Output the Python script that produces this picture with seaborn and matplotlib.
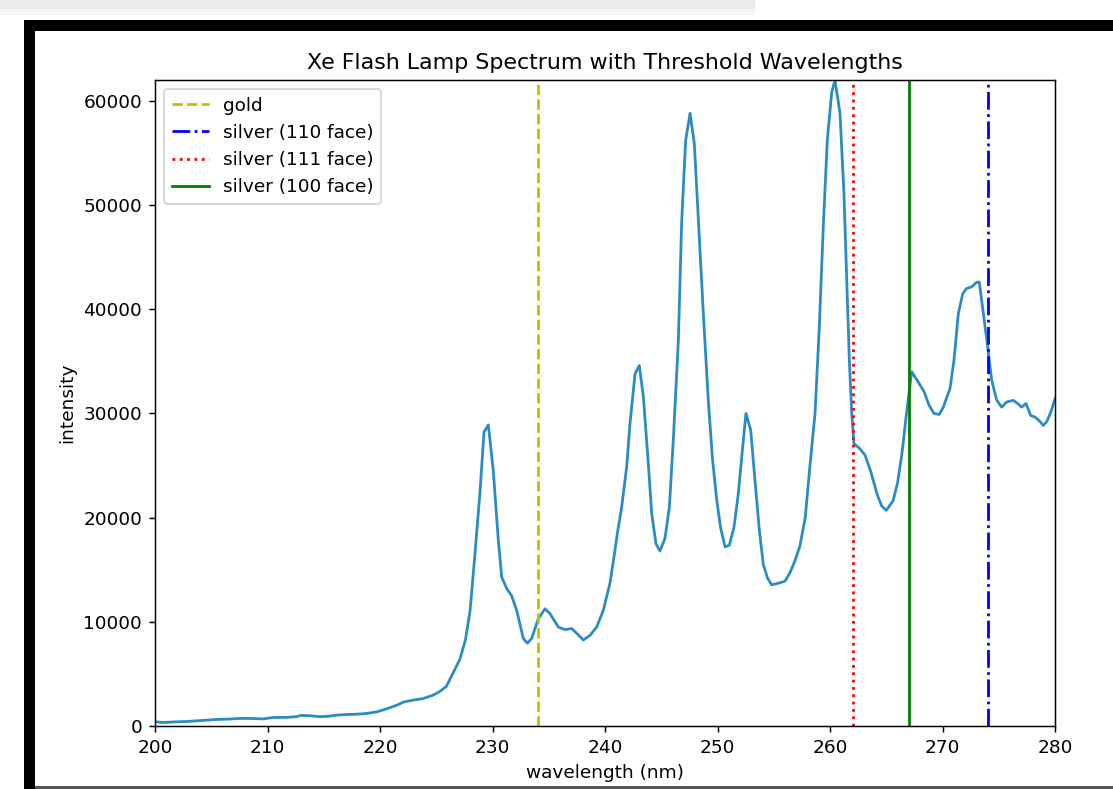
import numpy as np
import pandas as pd
import seaborn as sns
import matplotlib.pyplot as plt
from matplotlib.patches import Rectangle

# spectrum
wavelength = [
    200.0, 200.7, 201.8, 202.8, 203.7, 204.6, 205.5, 206.7, 207.6, 208.7,
    209.6, 210.5, 211.7, 212.6, 213.0, 213.8, 214.7, 215.5, 216.2, 217.0,
    217.9, 218.8, 219.7, 220.6, 221.5, 222.1, 223.0, 223.8, 224.3, 224.7,
    225.3, 225.9, 226.5, 227.1, 227.6, 228.0, 228.4, 228.9, 229.24, 229.63,
    230.07, 230.52, 230.82, 231.26, 231.7, 232.15, 232.74, 233.1, 233.48, 234.07,
    234.67, 235.1, 235.85, 236.44, 237.04, 237.63, 238.07, 238.67, 239.26, 239.85,
    240.44, 240.74, 241.1, 241.48, 241.93, 242.22, 242.67, 243.05, 243.41, 243.85,
    244.15, 244.53, 244.89, 245.33, 245.72, 246.07, 246.52, 246.82, 247.17, 247.56,
    247.94, 248.36, 248.74, 249.18, 249.54, 249.93, 250.28, 250.67, 251.05, 251.47,
    251.85, 252.24, 252.53, 252.95, 253.33, 253.72, 254.07, 254.45, 254.81, 255.4,
    256.0, 256.44, 256.9, 257.33, 257.8, 258.22, 258.67, 259.05, 259.4, 259.76,
    260.15, 260.44, 260.89, 261.24, 261.48, 261.72, 261.93, 262.13, 262.67, 263.11,
    263.6, 264.2, 264.6, 265.0, 265.6, 266.0, 266.4, 266.8, 267.26, 267.85,
    268.36, 268.8, 269.24, 269.72, 270.07, 270.67, 271.02, 271.41, 271.8, 272.15,
    272.6, 273.04, 273.27, 273.63, 273.98, 274.37, 274.81, 275.26, 275.7, 276.3,
    276.74, 277.04, 277.42, 277.84, 278.22, 278.6, 278.96, 279.26, 279.62, 280.0,
]
intensity = [
    410, 330, 400, 430, 500, 560, 630, 670, 730, 720,
    680, 820, 830, 900, 1020, 980, 890, 950, 1050, 1100,
    1130, 1200, 1350, 1650, 2000, 2300, 2500, 2620, 2800, 2950,
    3300, 3800, 5100, 6400, 8300, 11000, 16000, 22600, 28200, 28900,
    24500, 17800, 14300, 13200, 12500, 11100, 8400, 7950, 8400, 10300,
    11250, 10800, 9500, 9250, 9350, 8750, 8250, 8700, 9500, 11100,
    13700, 15800, 18500, 21000, 24900, 29000, 33800, 34600, 31600, 25200,
    20400, 17500, 16800, 18000, 21000, 27400, 37000, 48500, 56200, 58800,
    55900, 47300, 39600, 31300, 25800, 21700, 19000, 17200, 17350, 19100,
    22300, 26800, 30000, 28400, 23600, 18800, 15500, 14200, 13550, 13700,
    13900, 14700, 15900, 17300, 20000, 25000, 30000, 38300, 47900, 56200,
    60800, 62000, 58800, 51100, 43100, 35100, 30000, 27100, 26600, 26000,
    24500, 22200, 21100, 20700, 21600, 23300, 26200, 30000, 34000, 33000,
    32100, 30800, 30000, 29900, 30600, 32400, 35100, 39600, 41500, 42000,
    42150, 42600, 42600, 39600, 36700, 33200, 31300, 30600, 31100, 31250,
    30900, 30600, 30950, 29800, 29650, 29300, 28850, 29200, 30100, 31400,
]

# threshold wavelengths (nm)
threshold_labels = ['gold', 'silver (110 face)', 'silver (111 face)', 'silver (100 face)']
threshold_nm = [234, 274, 262, 267]
threshold_colors = ['y', 'b', 'r', 'g']
threshold_styles = ['--', '-.', ':', '-']

df = pd.DataFrame({'wavelength': wavelength, 'intensity': intensity})

W, H = 1113, 789
DPI = 133
fig = plt.figure(figsize=(W / DPI, H / DPI), dpi=DPI)

# screenshot frame around the figure
def box(x0, y0, x1, y1, color):
    fig.add_artist(Rectangle((x0 / W, 1 - y1 / H), (x1 - x0) / W, (y1 - y0) / H,
                             transform=fig.transFigure, color=color, lw=0, zorder=-5))

box(0, 0, 755, 9, '#ebebeb')
box(0, 9, 755, 12, '#f3f3f3')
box(0, 12, 755, 15, '#f9f9f9')
box(24, 20, W, 31, 'black')
box(24, 20, 35, H, 'black')
box(35, 786, W, 789, '#555555')

ax = fig.add_axes([155 / W, 63 / H, 900 / W, 646 / H])

sns.lineplot(data=df, x='wavelength', y='intensity', ax=ax, color='#2b8cc4')

for lab, nm, c, ls in zip(threshold_labels, threshold_nm, threshold_colors, threshold_styles):
    ax.axvline(nm, color=c, linestyle=ls, label=lab)

ax.set_xlim(200, 280)
ax.set_ylim(0, max(intensity))
ax.set_title('Xe Flash Lamp Spectrum with Threshold Wavelengths')
ax.set_xlabel('wavelength (nm)')
ax.set_ylabel('intensity')
ax.legend(loc='upper left')

fig.savefig('out.png', dpi=DPI)
